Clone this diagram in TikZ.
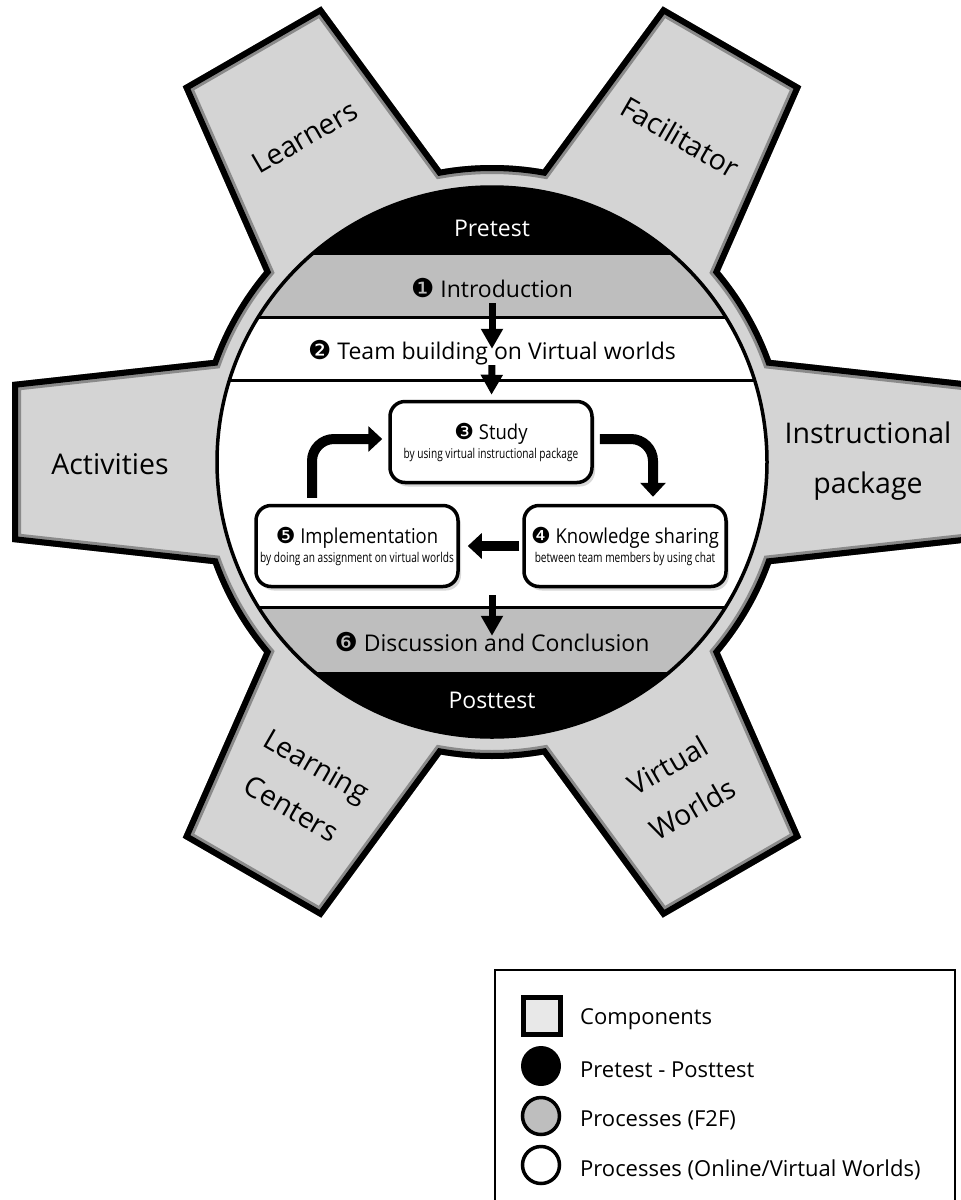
\documentclass[tikz,border=0pt]{standalone}
\usepackage{fontspec}
\setmainfont{Open Sans}
\newfontfamily\dingfont{DejaVu Sans}
\newfontfamily\narrowfont[FakeStretch=0.75]{Open Sans}
\newfontfamily\titlefont[FakeStretch=0.9]{Open Sans}
\usetikzlibrary{arrows.meta,shadows}

\definecolor{toothgray}{RGB}{212,212,212}
\definecolor{bevelgray}{RGB}{138,138,138}
\definecolor{bandgray}{RGB}{190,190,190}
\definecolor{keygray}{RGB}{232,232,232}

% outline of the six-tooth wheel, centred on the origin
\newcommand{\gearpath}{(-20.1:297) \foreach \a in {0,60,...,300}{
    -- (\a-20.1:297) -- (\a-9.46:486.6) -- (\a+9.46:486.6) -- (\a+20.1:297)
    arc[start angle=\a+20.1, end angle=\a+39.9, radius=297]} -- cycle}
\newcommand{\badge}[2]{{\dingfont\fontsize{#1}{#1}\selectfont #2}}
\newcommand{\subtext}[1]{{\narrowfont\fontsize{13.5}{15}\selectfont #1}}

\begin{document}
\begin{tikzpicture}[x=1pt,y=1pt]
    \tikzstyle{every node}=[font=\fontsize{23}{27}\selectfont, inner sep=0pt]
    \tikzstyle{band}=[text height=17pt, text depth=5pt]
    \tikzstyle{part}=[font=\fontsize{28.5}{50}\selectfont, align=center]
    \tikzstyle{stage}=[draw, line width=3.5pt, rounded corners=15pt, fill=white,
        minimum width=202pt, minimum height=81pt, align=center,
        font=\titlefont\fontsize{20.5}{22}\selectfont,
        drop shadow={shadow xshift=3pt, shadow yshift=-4pt, fill=black!30}]
    \tikzstyle{downarrow}=[line width=7pt, -{Triangle[width=21pt,length=20pt]}]
    \tikzstyle{looparrow}=[line width=10pt, -{Triangle[width=25pt,length=14pt]},
        rounded corners=22pt]
    \tikzstyle{keytext}=[anchor=west, font=\fontsize{22}{26}\selectfont]

    \useasboundingbox (0,0) rectangle (961,-1200);
    \clip (0,0) rectangle (961,-1200);

    % wheel and inner disc
    \begin{scope}[shift={(492,-462)}]
        \fill[toothgray] \gearpath;
        \begin{scope}
            \clip \gearpath;
            \draw[bevelgray, line width=18pt] \gearpath;
            \draw[line width=12pt] \gearpath;
        \end{scope}
        \begin{scope}
            \clip (0,0) circle (275);
            \fill[white] (-280,145) rectangle (280,-145);
            \fill (-280,207) rectangle (280,280);
            \fill[bandgray] (-280,145) rectangle (280,207);
            \fill[bandgray] (-280,-145) rectangle (280,-210);
            \fill (-280,-210) rectangle (280,-280);
            \draw[line width=3pt] (-280,145) -- (280,145);
            \draw[line width=3pt] (-280,82) -- (280,82);
            \draw[line width=3pt] (-280,-145) -- (280,-145);
        \end{scope}
        \draw[line width=3.5pt] (0,0) circle (275);
    \end{scope}

    % components
    \node[part, rotate=30] (learners) at (305,-137) {Learners};
    \node[part, rotate=-30] (facil) at (680,-137) {Facilitator};
    \node[part] (activ) at (110,-464) {Activities};
    \node[part] (instr) at (868,-461) {Instructional\\package};
    \node[part, rotate=-30] (centers) at (304,-787) {Learning\\Centers};
    \node[part, rotate=30] (worlds) at (680,-787) {Virtual\\Worlds};

    % processes
    \node[band, text=white] (pre) at (492,-230) {Pretest};
    \node[band] (intro) at (492,-291) {\badge{26}{❶} Introduction};
    \node[band] (team) at (492,-353) {\badge{26}{❷} Team building on Virtual worlds};
    \node[stage] (study) at (491,-442)
        {\badge{22}{❸} Study\\[-3pt]\subtext{by using virtual instructional package}};
    \node[stage] (know) at (625,-546)
        {\badge{22}{❹} Knowledge sharing\\[-3pt]\subtext{between team members by using chat}};
    \node[stage] (impl) at (357,-546)
        {\badge{22}{❺} Implementation\\[-3pt]\subtext{by doing an assignment on virtual worlds}};
    \coordinate (loopout) at (492,-595);
    \node[band] (disc) at (492,-645) {\badge{26}{❻} Discussion and Conclusion};
    \node[band, text=white] (post) at (492,-702) {Posttest};

    \draw[downarrow, shorten <=1pt, shorten >=-7pt] (intro) -- (team);
    \draw[downarrow, shorten <=1pt, shorten >=5pt] (team) -- (study);
    \draw[looparrow, shorten <=6pt, shorten >=7pt] ([yshift=3pt]study.east) -| ([xshift=28pt]know.north);
    \draw[looparrow, shorten <=3pt, shorten >=8pt] (know.west) -- (impl.east);
    \draw[looparrow, shorten <=6pt, shorten >=6pt] ([xshift=-45pt]impl.north) |- ([yshift=3pt]study.west);
    \draw[downarrow, shorten >=-2pt] (loopout) -- (disc);

    % legend
    \draw[line width=2.5pt] (495,-970) rectangle (955,-1215);
    \node[draw, line width=4.5pt, fill=keygray, minimum size=37pt] (kcomp) at (542,-1016) {};
    \node[circle, fill=black, minimum size=40pt] (kprepost) at (541,-1066) {};
    \node[circle, draw, line width=3.5pt, fill=bandgray, minimum size=37pt] (kftf) at (541,-1116) {};
    \node[circle, draw, line width=3.5pt, fill=white, minimum size=37pt] (konline) at (541,-1165) {};
    \node[keytext] (tcomp) at (580,-1019) {Components};
    \node[keytext] (tprepost) at (580,-1070) {Pretest - Posttest};
    \node[keytext] (tftf) at (580,-1120) {Processes (F2F)};
    \node[keytext] (tonline) at (580,-1170) {Processes (Online/Virtual Worlds)};
\end{tikzpicture}
\end{document}
